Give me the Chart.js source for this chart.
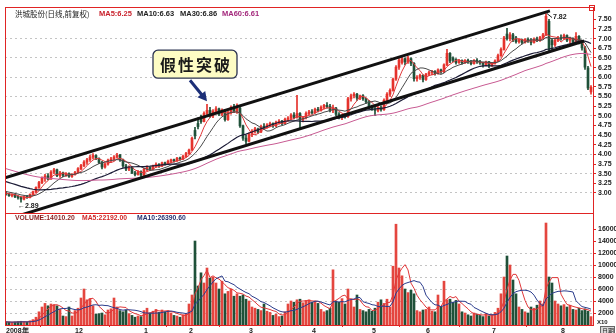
<!DOCTYPE html>
<html lang="zh-CN">
<head>
<meta charset="UTF-8" />
<title>洪城股份 日线</title>
<script src="https://cdn.jsdelivr.net/npm/chart.js"></script>
<style>
  html, body { margin: 0; padding: 0; background: #fff; }
  #kline { display: block; }
</style>
</head>
<body>
<canvas id="kline" width="616" height="333"></canvas>
<script>
// 日K线 (前复权), 2008年11月 ~ 2009年8月, 每根K线一个交易日
const opens = [
  3.00,2.97,2.93,2.96,2.90,2.88,2.84,2.90,2.88,2.96,
  3.03,3.14,3.27,3.38,3.44,3.36,3.54,3.60,3.45,3.52,
  3.46,3.50,3.43,3.48,3.53,3.63,3.71,3.80,3.86,3.93,
  3.97,3.89,3.79,3.67,3.75,3.85,3.88,3.93,3.98,3.86,
  3.70,3.62,3.66,3.52,3.48,3.55,3.46,3.62,3.66,3.62,
  3.70,3.74,3.70,3.78,3.75,3.82,3.86,3.83,3.90,3.88,
  3.95,4.02,4.11,4.62,4.80,4.95,4.85,5.06,5.14,5.00,
  5.12,5.18,5.04,5.15,4.90,5.08,5.22,5.12,5.20,4.74,
  4.42,4.34,4.52,4.60,4.66,4.58,4.72,4.70,4.76,4.80,
  4.74,4.83,4.86,4.80,4.91,4.94,5.02,4.96,5.06,4.90,
  4.95,5.06,5.10,5.08,5.17,5.14,5.22,5.27,5.24,5.14,
  5.20,5.04,4.96,5.00,4.98,5.44,5.52,5.56,5.46,5.52,
  5.44,5.36,5.22,5.18,5.14,5.21,5.16,5.40,5.56,5.66,
  5.95,6.26,6.38,6.48,6.40,6.48,6.36,5.96,6.00,6.05,
  5.94,6.08,6.12,6.15,6.09,6.19,6.14,6.32,6.62,6.50,
  6.46,6.38,6.43,6.37,6.44,6.40,6.35,6.44,6.40,6.37,
  6.33,6.40,6.30,6.36,6.42,6.56,6.72,7.12,7.00,7.10,
  7.02,6.92,6.97,6.90,6.98,6.94,6.90,6.99,6.95,7.03,
  7.10,7.45,6.95,6.84,6.96,7.02,7.00,7.08,6.96,7.00,
  6.90,7.06,6.92,6.76,6.24,5.62
];
const highs = [
  3.02,2.99,2.98,2.97,2.93,2.90,2.92,2.94,2.98,3.05,
  3.16,3.30,3.42,3.48,3.50,3.58,3.64,3.62,3.56,3.54,
  3.53,3.52,3.50,3.56,3.66,3.74,3.84,3.90,3.98,4.02,
  3.99,3.91,3.82,3.78,3.88,3.92,3.97,4.03,4.00,3.88,
  3.74,3.70,3.68,3.56,3.58,3.57,3.64,3.70,3.68,3.72,
  3.78,3.76,3.80,3.80,3.85,3.88,3.88,3.92,3.93,3.98,
  4.05,4.14,4.45,4.70,4.95,5.02,5.10,5.30,5.22,5.16,
  5.24,5.20,5.18,5.17,5.12,5.26,5.30,5.31,5.24,4.76,
  4.50,4.56,4.64,4.70,4.68,4.76,4.80,4.80,4.84,4.82,
  4.86,4.90,4.88,4.94,4.98,5.06,5.08,5.53,5.08,4.98,
  5.10,5.14,5.16,5.20,5.22,5.26,5.30,5.34,5.30,5.28,
  5.22,5.08,5.04,5.06,5.48,5.56,5.60,5.58,5.54,5.55,
  5.46,5.40,5.28,5.22,5.24,5.26,5.44,5.60,5.70,5.98,
  6.30,6.48,6.52,6.50,6.54,6.50,6.38,6.04,6.08,6.06,
  6.10,6.16,6.18,6.17,6.22,6.21,6.35,6.72,6.64,6.53,
  6.48,6.46,6.45,6.46,6.47,6.44,6.46,6.48,6.44,6.39,
  6.42,6.41,6.38,6.45,6.60,6.76,7.06,7.27,7.16,7.14,
  7.06,7.00,6.99,7.00,7.02,7.00,7.02,7.04,7.06,7.14,
  7.65,7.50,6.98,7.00,7.06,7.10,7.12,7.10,7.04,7.02,
  7.16,7.08,6.95,6.80,6.28,5.78
];
const lows = [
  2.94,2.91,2.90,2.88,2.84,2.76,2.82,2.86,2.87,2.94,
  3.01,3.12,3.24,3.30,3.34,3.35,3.50,3.42,3.40,3.42,
  3.43,3.40,3.40,3.46,3.52,3.60,3.68,3.74,3.82,3.88,
  3.86,3.76,3.62,3.64,3.72,3.80,3.84,3.90,3.82,3.66,
  3.58,3.58,3.50,3.44,3.46,3.38,3.45,3.58,3.58,3.60,
  3.66,3.66,3.68,3.72,3.73,3.78,3.80,3.82,3.84,3.86,
  3.92,4.00,4.10,4.40,4.66,4.80,4.84,5.00,4.96,4.95,
  5.05,5.00,5.00,4.86,4.88,5.04,5.08,5.06,4.70,4.36,
  4.28,4.32,4.46,4.55,4.54,4.56,4.66,4.68,4.72,4.70,
  4.72,4.78,4.76,4.78,4.86,4.90,4.92,4.94,4.68,4.84,
  4.92,5.02,5.04,5.06,5.10,5.12,5.18,5.20,5.10,5.08,
  5.00,4.92,4.90,4.94,4.96,5.38,5.46,5.40,5.42,5.40,
  5.32,5.18,5.14,5.00,5.10,5.12,5.14,5.36,5.50,5.64,
  5.92,6.20,6.34,6.32,6.36,6.30,5.90,5.90,5.94,5.88,
  5.92,6.04,6.06,6.05,6.08,6.10,6.12,6.30,6.38,6.40,
  6.34,6.36,6.34,6.36,6.36,6.32,6.34,6.36,6.33,6.26,
  6.30,6.25,6.28,6.34,6.40,6.54,6.70,6.96,6.94,6.92,
  6.88,6.88,6.86,6.88,6.90,6.84,6.88,6.92,6.93,7.00,
  7.08,6.65,6.70,6.80,6.92,6.96,6.98,6.92,6.88,6.86,
  6.88,6.86,6.70,6.20,5.68,5.56
];
const closes = [
  2.97,2.93,2.96,2.90,2.88,2.84,2.90,2.88,2.96,3.03,
  3.14,3.27,3.38,3.44,3.36,3.54,3.60,3.45,3.52,3.46,
  3.50,3.43,3.48,3.53,3.63,3.71,3.80,3.86,3.93,3.97,
  3.89,3.79,3.67,3.75,3.85,3.88,3.93,3.98,3.86,3.70,
  3.62,3.66,3.52,3.48,3.55,3.46,3.62,3.66,3.62,3.70,
  3.74,3.70,3.78,3.75,3.82,3.86,3.83,3.90,3.88,3.95,
  4.02,4.11,4.42,4.48,4.72,4.85,5.06,5.14,5.00,5.12,
  5.18,5.04,5.15,4.90,5.08,5.22,5.12,5.20,4.74,4.42,
  4.34,4.52,4.60,4.66,4.58,4.72,4.70,4.76,4.80,4.74,
  4.83,4.86,4.80,4.91,4.94,5.02,4.96,5.06,4.90,4.95,
  5.06,5.10,5.08,5.17,5.14,5.22,5.27,5.24,5.14,5.20,
  5.04,4.96,5.00,4.98,5.44,5.52,5.56,5.46,5.52,5.44,
  5.36,5.22,5.18,5.14,5.21,5.16,5.40,5.56,5.66,5.95,
  6.26,6.44,6.48,6.40,6.50,6.36,5.96,6.00,6.05,5.94,
  6.08,6.12,6.15,6.09,6.19,6.14,6.32,6.62,6.42,6.44,
  6.38,6.43,6.37,6.44,6.40,6.35,6.44,6.40,6.37,6.33,
  6.40,6.30,6.36,6.42,6.56,6.72,7.02,7.00,7.10,6.96,
  6.92,6.97,6.90,6.98,6.94,6.90,6.99,6.95,7.03,7.10,
  7.58,6.72,6.84,6.96,7.02,7.00,7.08,6.96,7.00,6.90,
  7.06,6.90,6.76,6.26,5.72,5.74
];
// 成交量 (x10)
const volumes = [
  520,480,450,500,560,620,540,480,700,900,
  1300,2200,3000,3600,3200,3500,3400,3200,2600,1500,
  1400,3000,1500,2400,2800,4500,6000,4200,4400,3200,
  1800,1900,2000,1700,2500,2700,4500,3000,2400,2200,
  2500,1900,1600,1300,1500,1400,2400,2800,2000,2300,
  2600,2100,2500,2200,2400,2000,1600,1500,1300,1700,
  1800,3500,5000,14000,6500,8700,7000,9500,7800,8000,
  7000,6000,7300,5200,5600,6000,4800,5200,4800,5000,
  4300,4000,3000,2800,2600,2400,3500,2300,2100,1600,
  1800,1400,1500,2200,3500,4000,3800,4200,4300,3700,
  4100,4200,3800,4000,3600,2600,2200,2400,2800,9200,
  4000,3800,4400,3500,6000,4200,3000,5000,2600,2400,
  2200,2600,2300,2800,3800,4200,3600,4300,3000,9800,
  16800,9500,8200,6000,5400,5800,5200,2400,2200,2500,
  2600,3000,2300,2200,5000,3000,7300,4200,4300,3800,
  4100,3500,2200,2000,1700,1500,2000,1800,1600,1400,
  1900,1500,1700,2100,2800,5200,8000,11500,10000,7500,
  5200,3000,2600,2200,2000,3000,2800,3300,4000,3500,
  17000,8000,7000,4000,3500,3200,3400,3000,3300,2600,
  2500,2800,2400,2700,2300,1401
];
// 图左端之前的60个收盘价, 只用于均线
const priorCloses = [
  4.35,4.30,4.32,4.25,4.20,4.22,4.15,4.10,4.12,4.05,
  4.08,4.02,3.98,4.00,3.95,3.92,3.96,3.90,3.88,3.92,
  3.86,3.82,3.85,3.80,3.78,3.82,3.76,3.74,3.78,3.72,
  3.70,3.66,3.68,3.62,3.58,3.60,3.55,3.50,3.52,3.46,
  3.42,3.45,3.38,3.34,3.30,3.32,3.26,3.22,3.18,3.20,
  3.15,3.12,3.10,3.08,3.05,3.06,3.02,3.00,2.98,3.01
];

// 月份刻度 (K线序号) 和文字
const monthIdx = [0, 23, 46, 61, 81, 102, 122, 140, 162, 185];
const monthLabels = ['2008年', '12', '1', '2', '3', '4', '5', '6', '7', '8'];
const priceTicks = [3.00,3.25,3.50,3.75,4.00,4.25,4.50,4.75,5.00,5.25,5.50,5.75,6.00,6.25,6.50,6.75,7.00,7.25,7.50];
const volTicks = [2000,4000,6000,8000,10000,12000,14000,16000];

// 手画的通道线 (K线序号, 价格)
const channelTop = [{ x: -0.33, y: 3.39 }, { x: 181.3, y: 7.72 }];
const channelBottom = [{ x: -0.33, y: 2.30 }, { x: 192.7, y: 6.94 }];

const UP = '#e5322c';
const DOWN = '#1f5139';
const FRAME = '#e02424';
const GRID = '#c4c4c4';
const NUM = '"Liberation Sans", Arial, sans-serif';
const CJK = '"Noto Sans CJK SC", sans-serif';

const N = closes.length;
const isUp = i => closes[i] >= opens[i];

function movingAvg(series, n, lead) {
  const out = [];
  for (let i = lead; i < series.length; i++) {
    const from = Math.max(0, i - n + 1);
    let s = 0;
    for (let k = from; k <= i; k++) s += series[k];
    out.push({ x: i - lead, y: s / (i - from + 1) });
  }
  return out;
}

const allCloses = priorCloses.concat(closes);
const lead = priorCloses.length;

function lineSet(data, color, axis, width, order) {
  return {
    type: 'line', data: data, yAxisID: axis,
    borderColor: color, borderWidth: width, pointRadius: 0,
    tension: 0, fill: false, order: order
  };
}

const decor = {
  id: 'decor',
  afterDraw(chart) {
    const { ctx, chartArea: a, scales } = chart;
    const x = scales.x, y = scales.y;
    ctx.save();

    // 红色边框和分隔线
    ctx.strokeStyle = FRAME;
    ctx.lineWidth = 1;
    ctx.beginPath();
    ctx.moveTo(a.left + 0.5, a.top); ctx.lineTo(a.left + 0.5, a.bottom);
    ctx.moveTo(a.left, a.top + 0.5); ctx.lineTo(a.right, a.top + 0.5);
    ctx.moveTo(a.left, y.bottom + 0.5); ctx.lineTo(a.right, y.bottom + 0.5);
    ctx.stroke();
    ctx.strokeRect(a.right - 3.5, a.top - 1.5, 5, 5);

    // 标题行
    ctx.textBaseline = 'middle';
    ctx.textAlign = 'left';
    const head = [
      ['洪城股份(日线,前复权)', 15, '#222', '7.5px ' + CJK],
      ['MA5:6.25', 99, '#c81f2a', 'bold 7.5px ' + NUM],
      ['MA10:6.63', 137, '#222', 'bold 7.5px ' + NUM],
      ['MA30:6.86', 180, '#222', 'bold 7.5px ' + NUM],
      ['MA60:6.61', 222, '#a3287c', 'bold 7.5px ' + NUM]
    ];
    head.forEach(h => { ctx.font = h[3]; ctx.fillStyle = h[2]; ctx.fillText(h[0], h[1], a.top + 7); });

    const vhead = [
      ['VOLUME:14010.20', 15, '#8a1f1f'],
      ['MA5:22192.00', 82, '#d02828'],
      ['MA10:26390.60', 137, '#283070']
    ];
    ctx.font = 'bold 6.8px ' + NUM;
    vhead.forEach(h => { ctx.fillStyle = h[2]; ctx.fillText(h[0], h[1], y.bottom + 5); });

    // 最高 / 最低价标注
    let hi = 0, lo = 0;
    for (let i = 1; i < N; i++) {
      if (highs[i] > highs[hi]) hi = i;
      if (lows[i] < lows[lo]) lo = i;
    }
    ctx.font = 'bold 7px ' + NUM;
    ctx.fillStyle = '#222';
    ctx.strokeStyle = '#222';
    const hx = x.getPixelForValue(hi), hy = y.getPixelForValue(highs[hi]);
    ctx.beginPath(); ctx.moveTo(hx + 1, hy); ctx.lineTo(hx + 6, hy + 4); ctx.stroke();
    ctx.fillText('7.82', hx + 7, hy + 4);
    const lx = x.getPixelForValue(lo), ly = y.getPixelForValue(lows[lo]);
    ctx.fillText('\u21902.89', lx - 3, ly + 4);

    // 假性突破 标注框和箭头
    const tx = x.getPixelForValue(67), ty = y.getPixelForValue(highs[67]) - 3;
    const bx = tx - 54, by = ty - 51, bw = 84, bh = 28;
    ctx.beginPath();
    ctx.roundRect(bx, by, bw, bh, 5);
    ctx.fillStyle = '#fdfcc4';
    ctx.fill();
    ctx.lineWidth = 1.3;
    ctx.strokeStyle = '#2b3350';
    ctx.stroke();
    ctx.fillStyle = '#1a1a1a';
    ctx.font = 'bold 16px ' + CJK;
    ctx.textAlign = 'center';
    if ('letterSpacing' in ctx) ctx.letterSpacing = '2px';
    ctx.fillText('假性突破', bx + bw / 2 + 1, by + bh / 2 + 1);
    if ('letterSpacing' in ctx) ctx.letterSpacing = '0px';

    const sx = tx - 17, sy = ty - 21;
    const ang = Math.atan2(ty - sy, tx - sx);
    ctx.strokeStyle = '#1c2f78';
    ctx.fillStyle = '#1c2f78';
    ctx.lineWidth = 3;
    ctx.beginPath();
    ctx.moveTo(sx, sy);
    ctx.lineTo(tx - 6 * Math.cos(ang), ty - 6 * Math.sin(ang));
    ctx.stroke();
    ctx.beginPath();
    ctx.moveTo(tx, ty);
    ctx.lineTo(tx - 9 * Math.cos(ang) + 5 * Math.sin(ang), ty - 9 * Math.sin(ang) - 5 * Math.cos(ang));
    ctx.lineTo(tx - 9 * Math.cos(ang) - 5 * Math.sin(ang), ty - 9 * Math.sin(ang) + 5 * Math.cos(ang));
    ctx.closePath();
    ctx.fill();

    // 右下角
    ctx.textAlign = 'left';
    ctx.font = 'bold 6px ' + NUM;
    ctx.fillStyle = '#222';
    ctx.fillText('X10', a.right + 4, a.bottom - 3);
    ctx.fillStyle = '#d6d6d6';
    ctx.fillRect(a.right + 7, a.bottom + 1, 15, 8);
    ctx.strokeStyle = '#666';
    ctx.lineWidth = 1;
    ctx.strokeRect(a.right + 7.5, a.bottom + 1.5, 14, 8);
    ctx.fillStyle = '#222';
    ctx.font = '6px ' + CJK;
    ctx.fillText('日期', a.right + 9, a.bottom + 5.5);

    ctx.restore();
  }
};

const chart = new Chart(document.getElementById('kline'), {
  data: {
    datasets: [
      {
        type: 'bar', yAxisID: 'y', order: 6, grouped: false,
        data: closes.map((c, i) => ({ x: i, y: [lows[i], highs[i]] })),
        barThickness: 1,
        backgroundColor: c => isUp(c.dataIndex) ? UP : DOWN
      },
      {
        type: 'bar', yAxisID: 'y', order: 5, grouped: false,
        data: closes.map((c, i) => ({ x: i, y: [opens[i], c] })),
        barThickness: 2, minBarLength: 1,
        backgroundColor: c => isUp(c.dataIndex) ? UP : DOWN
      },
      lineSet(movingAvg(allCloses, 60, lead), '#c85a92', 'y', 1, 4),
      lineSet(movingAvg(allCloses, 30, lead), '#1b1b36', 'y', 1.2, 4),
      lineSet(movingAvg(allCloses, 10, lead), '#4a4a4a', 'y', 1, 4),
      lineSet(movingAvg(allCloses, 5, lead), '#e0383a', 'y', 1, 4),
      lineSet(channelTop, '#111', 'y', 3, 1),
      lineSet(channelBottom, '#111', 'y', 3, 1),
      {
        type: 'bar', yAxisID: 'yv', order: 5, grouped: false,
        data: volumes.map((v, i) => ({ x: i, y: v })),
        barThickness: 2,
        backgroundColor: c => isUp(c.dataIndex) ? '#e4463f' : DOWN
      },
      lineSet(movingAvg(volumes, 10, 0), '#2b3c8c', 'yv', 1, 3),
      lineSet(movingAvg(volumes, 5, 0), '#e0383a', 'yv', 1, 3)
    ]
  },
  options: {
    responsive: false,
    animation: false,
    devicePixelRatio: 1,
    layout: { padding: { left: 5, top: 7, right: 0, bottom: 0 } },
    plugins: { legend: { display: false }, tooltip: { enabled: false } },
    scales: {
      x: {
        type: 'linear',
        min: -1 / 3,
        max: N - 1 / 3,
        offset: false,
        grid: { display: true, drawOnChartArea: false, tickLength: 2, tickColor: FRAME },
        border: { display: true, color: FRAME },
        afterBuildTicks: s => { s.ticks = monthIdx.map(v => ({ value: v })); },
        afterFit: s => { s.height = 8; },
        ticks: {
          autoSkip: false, maxRotation: 0, align: 'start', padding: 0,
          color: '#222', font: { size: 7, weight: 'bold', family: NUM },
          callback: v => monthLabels[monthIdx.indexOf(v)]
        }
      },
      y: {
        type: 'linear', position: 'right', stack: 'panes', stackWeight: 206, weight: 0,
        min: 2.48, max: 7.82,
        afterBuildTicks: s => { s.ticks = priceTicks.map(v => ({ value: v })); },
        afterFit: s => { s.width = 23; },
        grid: {
          tickLength: 3, tickColor: FRAME,
          color: c => (c.tick && c.tick.value <= 7.0 && Math.abs(c.tick.value * 2 - Math.round(c.tick.value * 2)) < 1e-6) ? GRID : 'rgba(0,0,0,0)'
        },
        border: { display: true, color: FRAME, dash: [2, 3] },
        ticks: {
          autoSkip: false, padding: 2, color: '#1a1a1a', font: { size: 7, weight: 'bold', family: NUM },
          callback: v => v.toFixed(2)
        }
      },
      yv: {
        type: 'linear', position: 'right', stack: 'panes', stackWeight: 112, weight: 1,
        min: 0, max: 18670,
        afterBuildTicks: s => { s.ticks = volTicks.map(v => ({ value: v })); },
        afterFit: s => { s.width = 23; },
        grid: {
          tickLength: 3, tickColor: FRAME,
          color: c => (c.tick && c.tick.value <= 12000) ? GRID : 'rgba(0,0,0,0)'
        },
        border: { display: true, color: FRAME, dash: [2, 3] },
        ticks: {
          autoSkip: false, padding: 2, color: '#1a1a1a', font: { size: 7, weight: 'bold', family: NUM },
          callback: v => String(v)
        }
      }
    }
  },
  plugins: [decor]
});
</script>
</body>
</html>
